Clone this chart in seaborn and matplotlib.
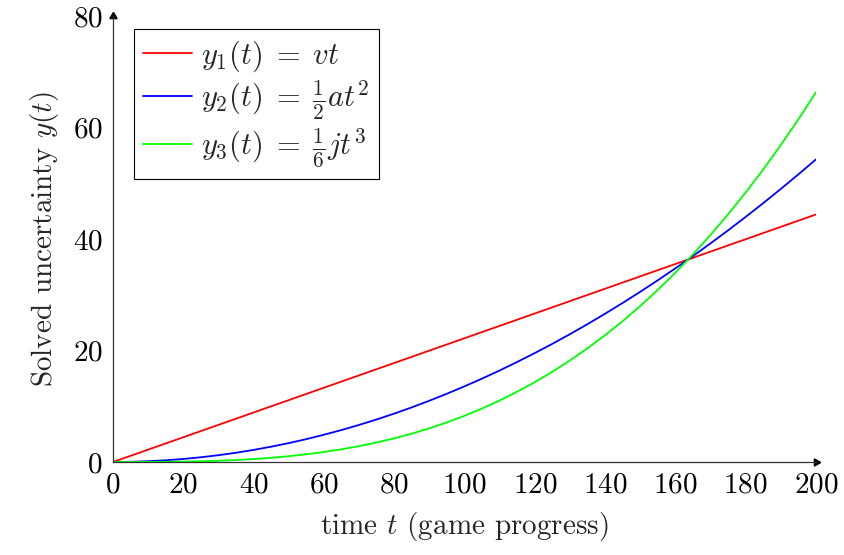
import numpy as np
import pandas as pd
import matplotlib
matplotlib.use("Agg")
import matplotlib.pyplot as plt
import seaborn as sns

# values at t = 0, 5, ..., 200
t_values = [0, 5, 10, 15, 20, 25, 30, 35, 40, 45, 50, 55, 60, 65, 70, 75, 80, 85, 90, 95, 100,
            105, 110, 115, 120, 125, 130, 135, 140, 145, 150, 155, 160, 165, 170, 175, 180,
            185, 190, 195, 200]
y_linear = [0.0, 1.11, 2.22, 3.33, 4.44, 5.55, 6.66, 7.77, 8.88, 9.99, 11.10, 12.21, 13.32,
            14.43, 15.54, 16.65, 17.76, 18.87, 19.98, 21.09, 22.20, 23.31, 24.42, 25.53,
            26.64, 27.75, 28.86, 29.97, 31.08, 32.19, 33.30, 34.41, 35.52, 36.63, 37.74,
            38.85, 39.96, 41.07, 42.18, 43.29, 44.40]
y_quadratic = [0.0, 0.03, 0.14, 0.31, 0.54, 0.85, 1.22, 1.66, 2.17, 2.75, 3.39, 4.10, 4.89,
               5.73, 6.65, 7.63, 8.68, 9.80, 10.99, 12.25, 13.57, 14.96, 16.42, 17.95, 19.54,
               21.20, 22.93, 24.73, 26.60, 28.53, 30.53, 32.60, 34.74, 36.94, 39.22, 41.56,
               43.97, 46.44, 48.99, 51.60, 54.28]
y_cubic = [0.0, 0.0, 0.01, 0.03, 0.07, 0.13, 0.22, 0.36, 0.53, 0.76, 1.04, 1.38, 1.79, 2.28,
           2.84, 3.50, 4.24, 5.09, 6.04, 7.11, 8.29, 9.60, 11.03, 12.61, 14.33, 16.19, 18.21,
           20.40, 22.75, 25.27, 27.98, 30.87, 33.96, 37.24, 40.73, 44.43, 48.35, 52.49,
           56.86, 61.47, 66.32]

labels = [r'$y_1(t) \;=\; vt$', r'$y_2(t) \;=\; \frac{1}{2}at^2$',
          r'$y_3(t) \;=\; \frac{1}{6}jt^3$']
colors = ['#ff0000', '#0000ff', '#00ff00']
x_ticks = [0, 20, 40, 60, 80, 100, 120, 140, 160, 180, 200]
y_ticks = [0, 20, 40, 60, 80]

df = pd.concat([
    pd.DataFrame({'t': t_values, 'y': ys, 'curve': lab})
    for ys, lab in zip([y_linear, y_quadratic, y_cubic], labels)
])

sns.set_style("white")
plt.rcParams['font.family'] = 'serif'
plt.rcParams['font.serif'] = ['cmr10', 'DejaVu Serif']
plt.rcParams['mathtext.fontset'] = 'cm'
plt.rcParams['axes.formatter.use_mathtext'] = True
plt.rcParams['axes.unicode_minus'] = False

fig = plt.figure(figsize=(8.44, 5.55), dpi=100)
ax = fig.add_axes([113 / 844, 93 / 555, 703 / 844, 446 / 555])

sns.lineplot(data=df, x='t', y='y', hue='curve', palette=colors,
             linewidth=1.3, ax=ax)

ax.set_xlim(0, 200)
ax.set_ylim(0, 80)
ax.set_xticks(x_ticks)
ax.set_yticks(y_ticks)
ax.tick_params(axis='both', direction='inout', length=7, width=0.8,
               color='#999999', labelsize=21, pad=4, labelcolor='black')

for side in ['top', 'right']:
    ax.spines[side].set_visible(False)
for side in ['left', 'bottom']:
    ax.spines[side].set_color('#333333')
    ax.spines[side].set_linewidth(0.9)

# arrow heads at axis ends
ax.plot(1, 0, marker=(3, 0, -90), color='black', markersize=6,
        transform=ax.transAxes, clip_on=False)
ax.plot(0, 1, marker=(3, 0, 0), color='black', markersize=6,
        transform=ax.transAxes, clip_on=False)

ax.set_xlabel(r'time $t$ (game progress)', fontsize=21, labelpad=8)
ax.set_ylabel(r'Solved uncertainty $y(t)$', fontsize=21, labelpad=8)

leg = ax.legend(loc='upper left', bbox_to_anchor=(0.03, 0.971), fontsize=22,
                frameon=True, fancybox=False, edgecolor='black',
                framealpha=1, handlelength=1.6, handletextpad=0.3,
                borderpad=0.3, labelspacing=0.15, borderaxespad=0)
leg.get_frame().set_linewidth(0.8)

fig.savefig('out.png', dpi=100)
